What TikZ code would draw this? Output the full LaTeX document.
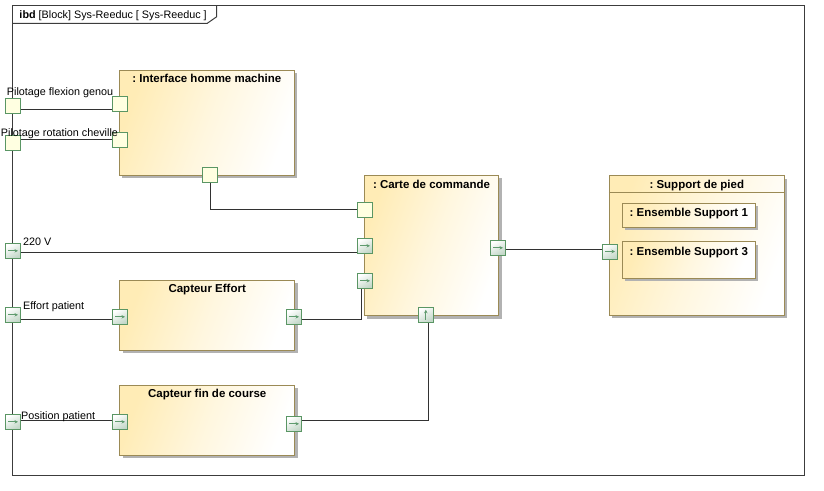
\documentclass[tikz,border=0pt]{standalone}
\usepackage{fontspec}
\setmainfont{Liberation Sans}
\usetikzlibrary{calc,shadows,arrows.meta}
\definecolor{ylw}{RGB}{255,236,182}
\definecolor{blkborder}{RGB}{155,138,85}
\definecolor{portgreen}{RGB}{90,150,100}
\definecolor{portfill}{RGB}{255,255,225}
\definecolor{arrowgreen}{RGB}{95,155,110}
\definecolor{argrad}{RGB}{195,215,200}
\definecolor{linec}{RGB}{50,50,50}
\definecolor{framec}{RGB}{60,60,60}
\frenchspacing
\tikzset{
  blk/.style={draw=blkborder, line width=0.9pt, top color=ylw, bottom color=white, middle color=ylw!45!white, shading angle=70,
    drop shadow={shadow xshift=3pt, shadow yshift=-3pt, fill=black!30, opacity=1}, inner sep=0pt},
  titl/.style={anchor=base, inner sep=0pt, font=\fontsize{11.5}{13}\selectfont\bfseries\frenchspacing},
  lbl/.style={anchor=base west, inner sep=0pt, font=\fontsize{10.8}{13}\selectfont},
  pport/.style={draw=portgreen, line width=0.9pt, fill=portfill, minimum size=15pt, inner sep=0pt},
  aport/.style={draw=portgreen, line width=0.9pt, top color=white, bottom color=argrad, shading angle=30, minimum size=15pt, inner sep=0pt,
    path picture={\draw[arrowgreen, line width=0.7pt, -{Stealth[length=3.5pt,width=3.5pt]}] ([xshift=2.5pt]path picture bounding box.west) -- ([xshift=-2.5pt]path picture bounding box.east);}},
  uport/.style={draw=portgreen, line width=0.9pt, top color=white, bottom color=argrad, shading angle=30, minimum size=15pt, inner sep=0pt,
    path picture={\draw[arrowgreen, line width=0.7pt, -{Stealth[length=3.5pt,width=3.5pt]}] ([yshift=2.5pt]path picture bounding box.south) -- ([yshift=-2.5pt]path picture bounding box.north);}},
  conn/.style={draw=linec, line width=0.9pt},
}
\begin{document}
\begin{tikzpicture}[x=1pt,y=-1pt]
\useasboundingbox (0,0) rectangle (824,490);
% frame
\draw[framec, line width=1pt] (12.3,5) rectangle (804,475);
\draw[framec, line width=1pt] (12.3,23.3) -- (207.3,23.3) -- (216.7,16.7) -- (216.7,5);
\node[lbl, font=\fontsize{10.8}{13}\selectfont] (ttl) at (19.3,18.3) {\textbf{ibd} [Block] Sys-Reeduc [ Sys-Reeduc ]};

% blocks
\node[blk, minimum width=175pt, minimum height=105pt] (ihm) at (206.8,122.8) {};
\node[titl] (ihmT) at ($(ihm.north)+(0,13)$) {: Interface homme machine};
\node[blk, minimum width=134.4pt, minimum height=140.4pt] (carte) at (431.5,245.5) {};
\node[titl] (carteT) at ($(carte.north)+(0,13.2)$) {: Carte de commande};
\node[blk, minimum width=175pt, minimum height=139.3pt] (sup) at (696.8,245.4) {};
\draw[blkborder, line width=0.9pt] ($(sup.north west)+(0,17)$) -- ($(sup.north east)+(0,17)$);
\node[titl] (supT) at ($(sup.north)+(0,12.8)$) {: Support de pied};
\node[blk, minimum width=133pt, minimum height=24pt] (es1) at (688.8,215.3) {};
\node[titl] (es1T) at ($(es1.north)+(0,13.6)$) {: Ensemble Support 1};
\node[blk, minimum width=133pt, minimum height=36.6pt] (es3) at (688.8,260) {};
\node[titl] (es3T) at ($(es3.north)+(0,14)$) {: Ensemble Support 3};
\node[blk, minimum width=175pt, minimum height=70pt] (ce) at (207.2,315.3) {};
\node[titl] (ceT) at ($(ce.north)+(0,12.9)$) {Capteur Effort};
\node[blk, minimum width=175pt, minimum height=70pt] (cf) at (207.2,420.3) {};
\node[titl] (cfT) at ($(cf.north)+(0,12.9)$) {Capteur fin de course};

% ports
\node[pport] (fpA) at (13,106) {};
\node[pport] (fpB) at (13,142.5) {};
\node[pport] (ihA) at (120,104) {};
\node[pport] (ihB) at (120,139.8) {};
\node[pport] (ihC) at (210,174.7) {};
\node[pport] (ccA) at (365,209.8) {};
\node[aport] (ccB) at (365,245.8) {};
\node[aport] (ccC) at (365,280.8) {};
\node[aport] (ccR) at (498,247.8) {};
\node[uport] (ccD) at (425.8,314.8) {};
\node[aport] (spL) at (610,251.5) {};
\node[aport] (fp220) at (13,250.8) {};
\node[aport] (fpE) at (13,314.8) {};
\node[aport] (ceL) at (120,316.8) {};
\node[aport] (ceR) at (294,316.8) {};
\node[aport] (fpP) at (13,421.8) {};
\node[aport] (cfL) at (120,421.8) {};
\node[aport] (cfR) at (294,423.8) {};

% connectors
\draw[conn] ([yshift=-3pt]fpA.east) -- ([yshift=-3pt]fpA.east -| ihA.west);
\draw[conn] (ihB.west) -- (ihB.west -| fpB.east);
\draw[conn] (ihC.south) |- (ccA.west);
\draw[conn] ([yshift=-1.5pt]fp220.east) -- ([yshift=-1.5pt]fp220.east -| ccB.west);
\draw[conn] ([yshift=-4.5pt]fpE.east) -- ([yshift=-4.5pt]fpE.east -| ceL.west);
\draw[conn] ([yshift=-2.5pt]ceR.east) -| ([xshift=-3.3pt]ccC.south);
\draw[conn] ([yshift=1.5pt]fpP.east) -- ([yshift=1.5pt]fpP.east -| cfL.west);
\draw[conn] ([yshift=3.5pt]cfR.east) -| ([xshift=2.2pt]ccD.south);
\draw[conn] ([yshift=-1.2pt]ccR.east) -- ([yshift=-1.2pt]ccR.east -| spL.west);

% labels
\node[lbl] (lA) at (6.7,95.7) {Pilotage flexion genou};
\node[lbl] (lB) at (0.7,136.7) {Pilotage rotation cheville};
\node[lbl] (l220) at (23,245) {220 V};
\node[lbl] (lE) at (23,309) {Effort patient};
\node[lbl] (lP) at (21,419.3) {Position patient};
\end{tikzpicture}
\end{document}
